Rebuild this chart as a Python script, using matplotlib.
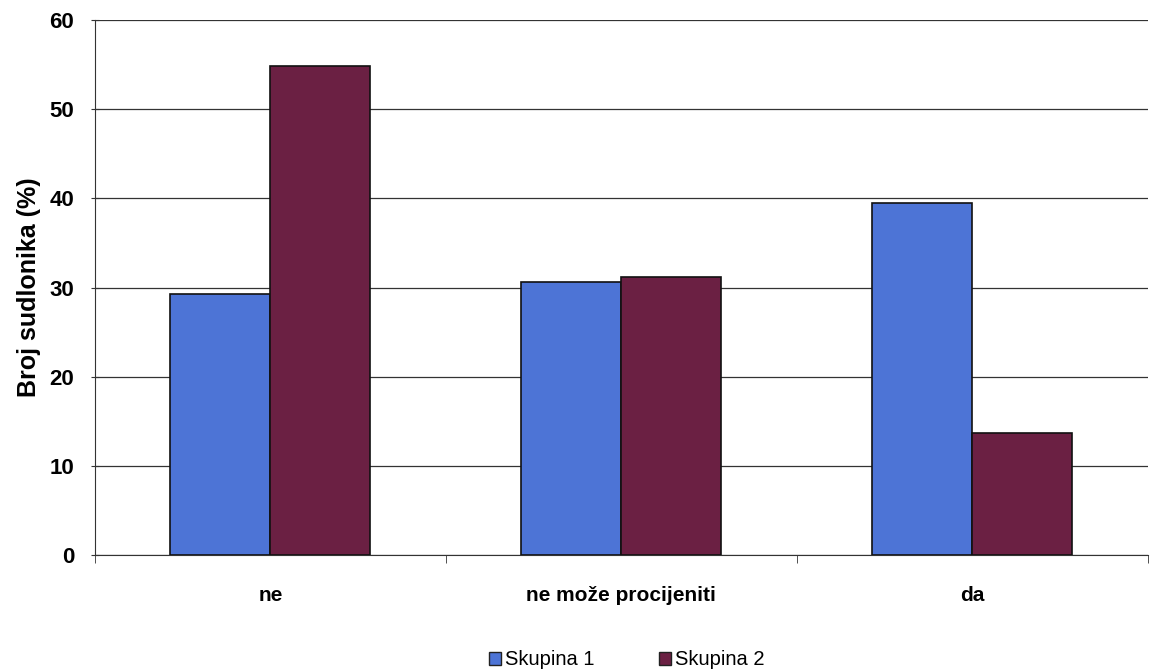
import numpy as np
from matplotlib import pyplot as plt
from matplotlib.patches import Patch

plt.rc('font', family='Liberation Sans')

categories = ['ne', 'ne može procijeniti', 'da']
skupina1 = [29.3, 30.6, 39.5]
skupina2 = [54.9, 31.2, 13.7]
series_names = ['Skupina 1', 'Skupina 2']
colors = ['#4D74D6', '#6B2043']

fig = plt.figure(figsize=(11.58, 6.72), dpi=100)
ax = fig.add_axes([0.082, 0.174, 0.909, 0.796])

x = np.arange(len(categories))
w = 0.285
ax.bar(x - w / 2, skupina1, w, color=colors[0], edgecolor='#111111', linewidth=1.2, zorder=3)
ax.bar(x + w / 2, skupina2, w, color=colors[1], edgecolor='#111111', linewidth=1.2, zorder=3)

ax.set_xlim(-0.5, len(categories) - 0.5)
ax.set_ylim(0, 60)
ax.set_yticks(range(0, 61, 10))
ax.yaxis.grid(True, color='#333333', linewidth=0.9, zorder=0)
ax.set_axisbelow(True)

ax.set_xticks(x)
ax.set_xticklabels(categories, fontsize=15, fontweight='bold')
ax.set_xticks(np.arange(-0.5, len(categories), 1), minor=True)
ax.tick_params(axis='x', which='major', length=0, pad=22)
ax.tick_params(axis='x', which='minor', length=6, color='#333333')
ax.tick_params(axis='y', length=6, direction='inout', color='#333333', labelsize=16, pad=12)
for lab in ax.get_yticklabels():
    lab.set_fontweight('bold')

ax.set_ylabel('Broj sudlonika (%)', fontsize=18, fontweight='bold', labelpad=6)

for s in ['top', 'right']:
    ax.spines[s].set_visible(False)
for s in ['left', 'bottom']:
    ax.spines[s].set_color('#333333')

handles = [Patch(facecolor=c, edgecolor='#222222', label=n) for c, n in zip(colors, series_names)]
fig.legend(handles=handles, loc='center', bbox_to_anchor=(0.541, 0.018), ncol=2, frameon=False,
           fontsize=14.5, handlelength=0.6, handleheight=0.6, handletextpad=0.2, columnspacing=3.2)

plt.savefig('out.png', dpi=100)
